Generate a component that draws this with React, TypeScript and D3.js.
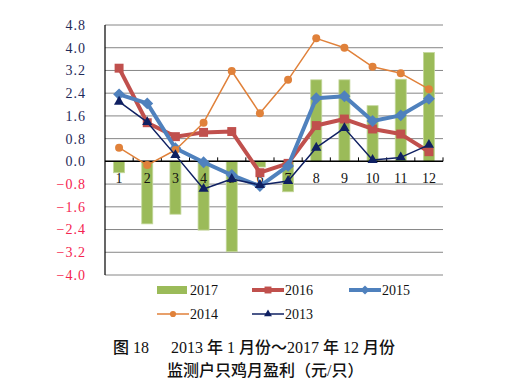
import React from 'react';
import * as d3 from 'd3';

const months = ['1', '2', '3', '4', '5', '6', '7', '8', '9', '10', '11', '12'];
const yTicks = [4.8, 4.0, 3.2, 2.4, 1.6, 0.8, 0.0, -0.8, -1.6, -2.4, -3.2, -4.0];

const v2017 = [-0.4, -2.2, -1.86, -2.42, -3.18, -0.2, -1.07, 2.87, 2.87, 1.96, 2.89, 3.83];
const v2016 = [3.28, 1.36, 0.87, 1.02, 1.05, -0.4, -0.07, 1.26, 1.49, 1.14, 0.96, 0.34];
const v2015 = [2.36, 2.04, 0.46, -0.03, -0.48, -0.87, -0.16, 2.22, 2.29, 1.42, 1.62, 2.2];
const v2014 = [0.48, -0.13, 0.4, 1.36, 3.18, 1.69, 2.87, 4.33, 4.0, 3.33, 3.1, 2.54];
const v2013 = [2.1, 1.38, 0.22, -0.97, -0.62, -0.83, -0.69, 0.48, 1.17, 0.05, 0.14, 0.58];

const W = 513;
const H = 392;
const margin = { left: 105, right: 70, top: 25, bottom: 117 };

const GREEN = '#9BBB59';
const RED = '#C0504D';
const BLUE = '#4F81BD';
const ORANGE = '#E0813A';
const NAVY = '#0F2062';

const serif = '"Liberation Serif", "Times New Roman", "Noto Sans CJK SC", serif';

type MarkerKind = 'square' | 'diamond' | 'circle' | 'triangle';

const symbolFor = (kind: MarkerKind, size: number) => {
  const t = kind === 'square' ? d3.symbolSquare : kind === 'diamond' ? d3.symbolDiamond2 : kind === 'circle' ? d3.symbolCircle : d3.symbolTriangle;
  return d3.symbol().type(t).size(size)() as string;
};

interface LineSeries {
  name: string;
  values: number[];
  color: string;
  width: number;
  marker: MarkerKind;
  markerSize: number;
}

const lineSeries: LineSeries[] = [
  { name: '2016', values: v2016, color: RED, width: 4, marker: 'square', markerSize: 80 },
  { name: '2015', values: v2015, color: BLUE, width: 4, marker: 'diamond', markerSize: 90 },
  { name: '2014', values: v2014, color: ORANGE, width: 1.5, marker: 'circle', markerSize: 50 },
  { name: '2013', values: v2013, color: NAVY, width: 1.5, marker: 'triangle', markerSize: 45 },
];

export default function App() {
  const x = d3.scaleBand().domain(months).range([margin.left, W - margin.right]);
  const y = d3.scaleLinear().domain([-4.0, 4.8]).range([H - margin.bottom, margin.top]);
  const fmt = d3.format('.1f');
  const barW = 11;
  const cx = (m: string) => (x(m) as number) + x.bandwidth() / 2;

  const line = d3.line<number>().x((_, i) => cx(months[i])).y(d => y(d));

  const legend = [
    { name: '2017', kind: 'bar', color: GREEN, lx: 157, ly: 290 },
    { name: '2016', kind: 'line', s: lineSeries[0], lx: 252, ly: 290 },
    { name: '2015', kind: 'line', s: lineSeries[1], lx: 349, ly: 290 },
    { name: '2014', kind: 'line', s: lineSeries[2], lx: 157, ly: 314 },
    { name: '2013', kind: 'line', s: lineSeries[3], lx: 252, ly: 314 },
  ];

  return (
    <svg width={W} height={H} style={{ position: 'absolute', left: 0, top: 0, background: '#fff' }}>
      {/* gridlines */}
      {yTicks.map(t => (
        <line key={t} x1={margin.left} x2={W - margin.right} y1={y(t)} y2={y(t)} stroke="#868686" strokeWidth={1} />
      ))}
      {/* y labels */}
      {yTicks.map(t => (
        <text key={'l' + t} x={86} y={y(t)} dy="0.35em" textAnchor="end" fontFamily={serif} fontSize={14}
          letterSpacing={1} fill={t < 0 ? '#F5234F' : '#1F2A5A'}>
          {fmt(t)}
        </text>
      ))}
      {/* bars 2017 */}
      {v2017.map((v, i) => (
        <rect key={'b' + i} x={cx(months[i]) - barW / 2} width={barW}
          y={Math.min(y(v), y(0))} height={Math.abs(y(v) - y(0))}
          fill={GREEN} stroke="#C4D79B" strokeWidth={0.8} />
      ))}
      {/* axes */}
      <line x1={margin.left} x2={margin.left} y1={margin.top} y2={H - margin.bottom} stroke="#000" strokeWidth={1.2} />
      <line x1={margin.left} x2={W - margin.right} y1={y(0)} y2={y(0)} stroke="#000" strokeWidth={1.5} />
      {months.map(m => (
        <line key={'t' + m} x1={(x(m) as number) + x.bandwidth()} x2={(x(m) as number) + x.bandwidth()}
          y1={y(0)} y2={y(0) - 4} stroke="#000" strokeWidth={1} />
      ))}
      {months.map(m => (
        <text key={'m' + m} x={cx(m)} y={y(0) + 17} dy="0.35em" textAnchor="middle" fontFamily={serif} fontSize={14} fill="#111">
          {m}
        </text>
      ))}
      {/* lines */}
      {lineSeries.map(s => (
        <g key={s.name}>
          <path d={line(s.values) as string} fill="none" stroke={s.color} strokeWidth={s.width} strokeLinejoin="round" />
          {s.values.map((v, i) => (
            <path key={i} d={symbolFor(s.marker, s.markerSize)} transform={`translate(${cx(months[i])},${y(v)})`} fill={s.color} />
          ))}
        </g>
      ))}
      {/* legend */}
      {legend.map(l => (
        <g key={'lg' + l.name}>
          {l.kind === 'bar' ? (
            <rect x={l.lx} y={l.ly - 4} width={30} height={8} fill={l.color} />
          ) : (
            <>
              <line x1={l.lx} x2={l.lx + 32} y1={l.ly} y2={l.ly} stroke={l.s!.color} strokeWidth={l.s!.width} />
              <path d={symbolFor(l.s!.marker, l.s!.markerSize * 0.6)} transform={`translate(${l.lx + 16},${l.ly})`} fill={l.s!.color} />
            </>
          )}
          <text x={l.lx + 33} y={l.ly} dy="0.35em" fontFamily={serif} fontSize={14} fill="#111">{l.name}</text>
        </g>
      ))}
      {/* caption */}
      <text x={113} y={347} dy="0.35em" fontFamily={serif} fontSize={16} fontWeight={500} fill="#111">图 18</text>
      <text x={171} y={347} dy="0.35em" fontFamily={serif} fontSize={16} fontWeight={500} fill="#111">2013 年 1 月份～2017 年 12 月份</text>
      <text x={167} y={370} dy="0.35em" fontFamily={serif} fontSize={16} fontWeight={500} fill="#111">监测户只鸡月盈利（元/只）</text>
    </svg>
  );
}
